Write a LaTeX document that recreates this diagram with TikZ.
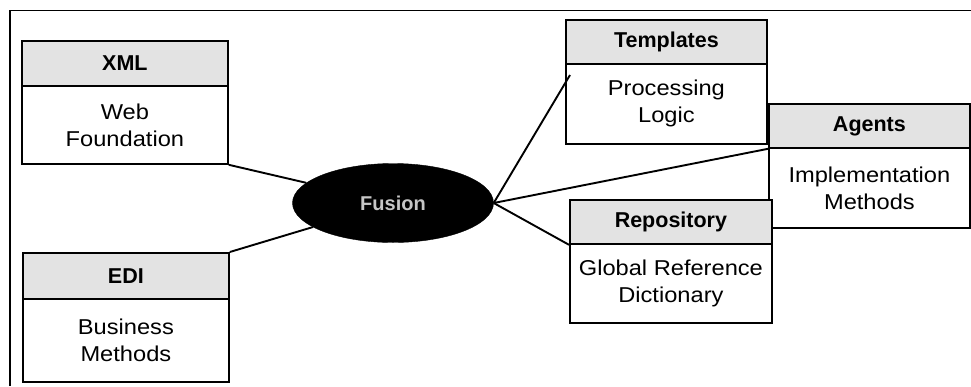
\documentclass[tikz,border=0pt]{standalone}
\usepackage{fontspec}
\setmainfont{Liberation Sans}
\newfontfamily\bodyfont[FakeStretch=1.1]{Liberation Sans}
\newfontfamily\headfont{Liberation Sans}
\usetikzlibrary{shapes.geometric,calc}
\begin{document}
\begin{tikzpicture}[x=1pt,y=-1pt,
  headbox/.style={draw, line width=1.8pt, fill=gray!22, anchor=north west, inner sep=0pt,
    font=\headfont\bfseries\fontsize{21.5}{25}\selectfont},
  bodybox/.style={draw, line width=1.8pt, fill=white, anchor=north west, inner sep=0pt, align=center,
    font=\bodyfont\fontsize{21.5}{27}\selectfont},
  conn/.style={line width=1.9pt},
  frameline/.style={line width=1.3pt}]
\useasboundingbox (0,0) rectangle (971,386);
\draw[frameline] (10,386) -- (10,10.5) -- (971,10.5);

% XML
\node[headbox, minimum width=206pt, minimum height=45pt] (xmlh) at (21,40) {XML};
\node[bodybox, minimum width=206pt, minimum height=78pt] (xmlb) at (21,85) {Web\\Foundation};
% EDI
\node[headbox, minimum width=206pt, minimum height=46pt] (edih) at (22,252) {EDI};
\node[bodybox, minimum width=206pt, minimum height=83pt] (edib) at (22,298) {Business\\Methods};
% Templates
\node[headbox, minimum width=201pt, minimum height=44pt] (tplh) at (565,19) {Templates};
\node[bodybox, minimum width=201pt, minimum height=80pt] (tplb) at (565,63) {Processing\\Logic};
% Agents
\node[headbox, minimum width=201pt, minimum height=44pt] (agh) at (768,103) {Agents};
\node[bodybox, minimum width=201pt, minimum height=80pt] (agb) at (768,147) {Implementation\\Methods};
% Repository
\node[headbox, minimum width=202pt, minimum height=44pt] (reph) at (569,199) {Repository};
\node[bodybox, minimum width=202pt, minimum height=79pt] (repb) at (569,243) {Global Reference\\Dictionary};

% centre
\node[ellipse, fill=black, draw=black, minimum width=201pt, minimum height=79pt, inner sep=0pt,
  text=gray!45, font=\headfont\bfseries\fontsize{20}{22}\selectfont] (fusion) at (393,203) {Fusion};

\coordinate (tplend) at ($(tplb.north west)+(5,12)$);
\draw[conn] (xmlb.south east) -- (fusion);
\draw[conn] (edih.north east) -- (fusion);
\draw[conn] (fusion.east) -- (tplend);
\draw[conn] (fusion.east) -- (agh.south west);
\draw[conn] (fusion.east) -- (reph.south west);
\end{tikzpicture}
\end{document}
